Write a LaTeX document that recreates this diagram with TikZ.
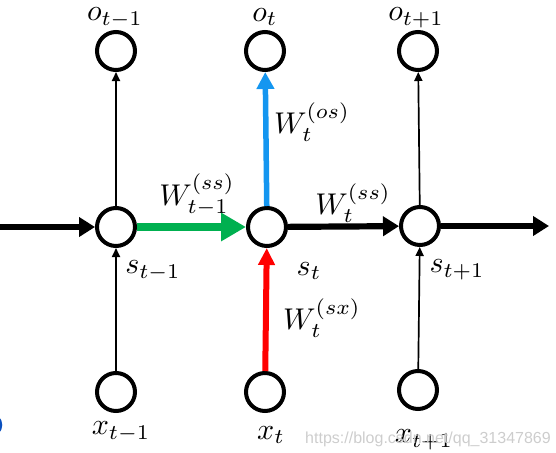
\documentclass[tikz,border=0pt]{standalone}
\usepackage{fontspec}
\newfontfamily\wmfont{Liberation Sans}
\usetikzlibrary{arrows.meta}
\definecolor{rnngreen}{RGB}{0,176,80}
\definecolor{rnnblue}{RGB}{20,150,240}
\definecolor{rnnred}{RGB}{255,0,0}
\definecolor{wmgray}{RGB}{205,205,205}
\definecolor{artblue}{RGB}{10,80,190}
\begin{document}
\begin{tikzpicture}[x=1pt,y=-1pt,
  neuron/.style={circle, draw, line width=4pt, minimum size=38pt, inner sep=0pt},
  lbl/.style={inner sep=0pt, scale=3.0},
  thinarr/.style={line width=1.7pt, -{Triangle[length=9pt,width=8pt]}},
  thickarr/.style={line width=6.2pt, -{Triangle[length=16pt,width=19pt]}},
  greenarr/.style={draw=rnngreen, line width=8pt, -{Triangle[length=25pt,width=27pt]}},
  redarr/.style={draw=rnnred, fill=rnnred, line width=6pt, -{Triangle[length=17pt,width=16pt]}},
  bluearr/.style={draw=rnnblue, fill=rnnblue, line width=5.5pt, -{Triangle[length=17pt,width=17pt]}},
]
\useasboundingbox (0,0) rectangle (556,452);
% neurons
\node[neuron] (o1) at (116,51) {};
\node[neuron] (o2) at (265,51) {};
\node[neuron] (o3) at (418,51) {};
\node[neuron] (s1) at (116,227) {};
\node[neuron] (s2) at (267,227) {};
\node[neuron] (s3) at (420,226) {};
\node[neuron] (x1) at (116,392) {};
\node[neuron] (x2) at (265,392) {};
\node[neuron] (x3) at (418,390) {};
\coordinate (inL) at (0,227);
\coordinate (outR) at (549,226);
% connectors
\draw[thickarr] (inL) -- (s1);
\draw[greenarr] (s1) -- (s2);
\draw[thickarr] (s2) -- (s3);
\draw[thickarr] (s3) -- (outR);
\draw[thinarr] (x1) -- (s1);
\draw[thinarr] (x3) -- (s3);
\draw[thinarr] (s1) -- (o1);
\draw[thinarr] (s3) -- (o3);
\draw[redarr] (x2) -- (s2);
\draw[bluearr] (s2) -- (o2);
% labels
\node[lbl] (lo1) at (115,18) {$o_{t-1}$};
\node[lbl] (lo2) at (265,17) {$o_{t}$};
\node[lbl] (lo3) at (416,18) {$o_{t+1}$};
\node[lbl] (lwos) at (312,122) {$W_{t}^{(os)}$};
\node[lbl] (lwss1) at (197,195) {$W_{t-1}^{(ss)}$};
\node[lbl] (lwss2) at (353,203) {$W_{t}^{(ss)}$};
\node[lbl] (ls1) at (153,271) {$s_{t-1}$};
\node[lbl] (ls2) at (309,271) {$s_{t}$};
\node[lbl] (ls3) at (457,270) {$s_{t+1}$};
\node[lbl] (lwsx) at (322,318) {$W_{t}^{(sx)}$};
\node[lbl] (lx1) at (121,432) {$x_{t-1}$};
\node[lbl] (lx2) at (271,435) {$x_{t}$};
\node[lbl] (lx3) at (424,440) {$x_{t+1}$};
% watermark
\node[inner sep=0pt, text=wmgray, font=\wmfont\fontsize{16}{18}\selectfont] (wm) at (428,439) {https://blog.csdn.net/qq\_31347869};
% edge artifact
\draw[artblue, line width=2.5pt] (-10,425) circle (11);
\end{tikzpicture}
\end{document}
